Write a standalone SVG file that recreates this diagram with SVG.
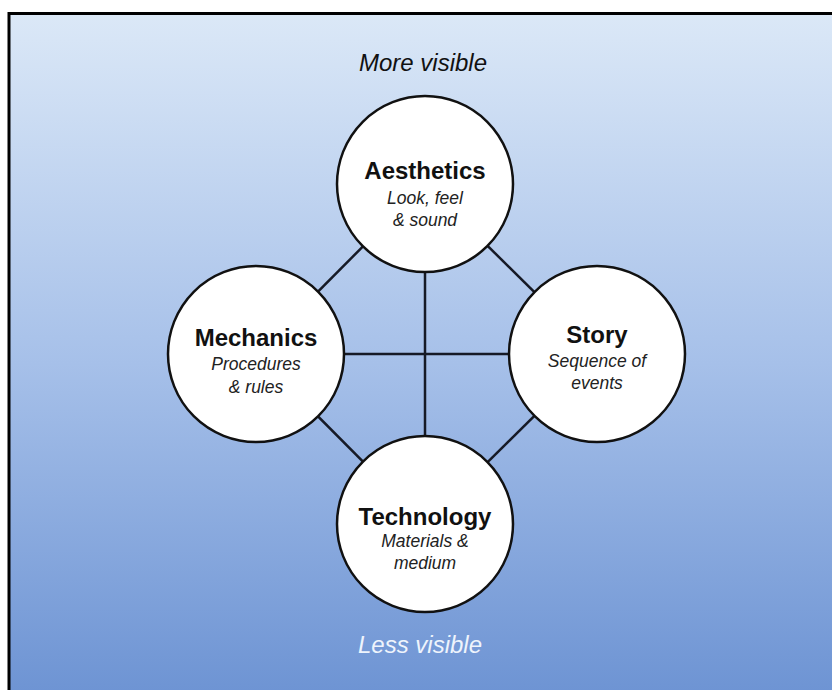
<svg xmlns="http://www.w3.org/2000/svg" width="832" height="690" viewBox="0 0 832 690">
  <defs>
    <linearGradient id="bg" x1="0" y1="0" x2="0" y2="1">
      <stop offset="0" stop-color="#dbe8f7"/>
      <stop offset="0.5" stop-color="#a6c0e9"/>
      <stop offset="1" stop-color="#6a91d2"/>
    </linearGradient>
    <style>
      .node circle { fill: #ffffff; stroke: #111111; stroke-width: 2.5; }
      .title { font-family: "Liberation Sans", Arial, sans-serif; font-weight: bold; font-size: 24px; fill: #111111; text-anchor: middle; }
      .sub { font-family: "Liberation Sans", Arial, sans-serif; font-style: italic; font-size: 17.5px; fill: #222222; text-anchor: middle; }
      .edge { stroke: #161a26; stroke-width: 2.5; fill: none; }
      .cap { font-family: "Liberation Sans", Arial, sans-serif; font-style: italic; font-size: 24px; text-anchor: middle; }
    </style>
  </defs>
  <rect x="0" y="0" width="832" height="690" fill="#ffffff"/>
  <rect x="9" y="13.5" width="840" height="700" fill="url(#bg)" stroke="#000000" stroke-width="3"/>
  <text class="cap" x="423" y="71" fill="#111111">More visible</text>
  <text class="cap" x="420" y="653" fill="#eef4fc">Less visible</text>
  <g id="connectors">
    <line class="edge" x1="425" y1="184" x2="256" y2="354"/>
    <line class="edge" x1="425" y1="184" x2="597" y2="354"/>
    <line class="edge" x1="256" y1="354" x2="425" y2="524"/>
    <line class="edge" x1="597" y1="354" x2="425" y2="524"/>
    <line class="edge" x1="425" y1="184" x2="425" y2="524"/>
    <line class="edge" x1="256" y1="354" x2="597" y2="354"/>
  </g>
  <g id="aesthetics" class="node">
    <circle cx="425" cy="184" r="88"/>
    <text class="title" x="425" y="179">Aesthetics</text>
    <text class="sub" x="425" y="204">Look, feel</text>
    <text class="sub" x="425" y="226">&amp; sound</text>
  </g>
  <g id="mechanics" class="node">
    <circle cx="256" cy="354" r="88"/>
    <text class="title" x="256" y="346">Mechanics</text>
    <text class="sub" x="256" y="370">Procedures</text>
    <text class="sub" x="256" y="393">&amp; rules</text>
  </g>
  <g id="story" class="node">
    <circle cx="597" cy="354" r="88"/>
    <text class="title" x="597" y="343">Story</text>
    <text class="sub" x="597" y="367">Sequence of</text>
    <text class="sub" x="597" y="389">events</text>
  </g>
  <g id="technology" class="node">
    <circle cx="425" cy="524" r="88"/>
    <text class="title" x="425" y="525">Technology</text>
    <text class="sub" x="425" y="547">Materials &amp;</text>
    <text class="sub" x="425" y="569">medium</text>
  </g>
</svg>
